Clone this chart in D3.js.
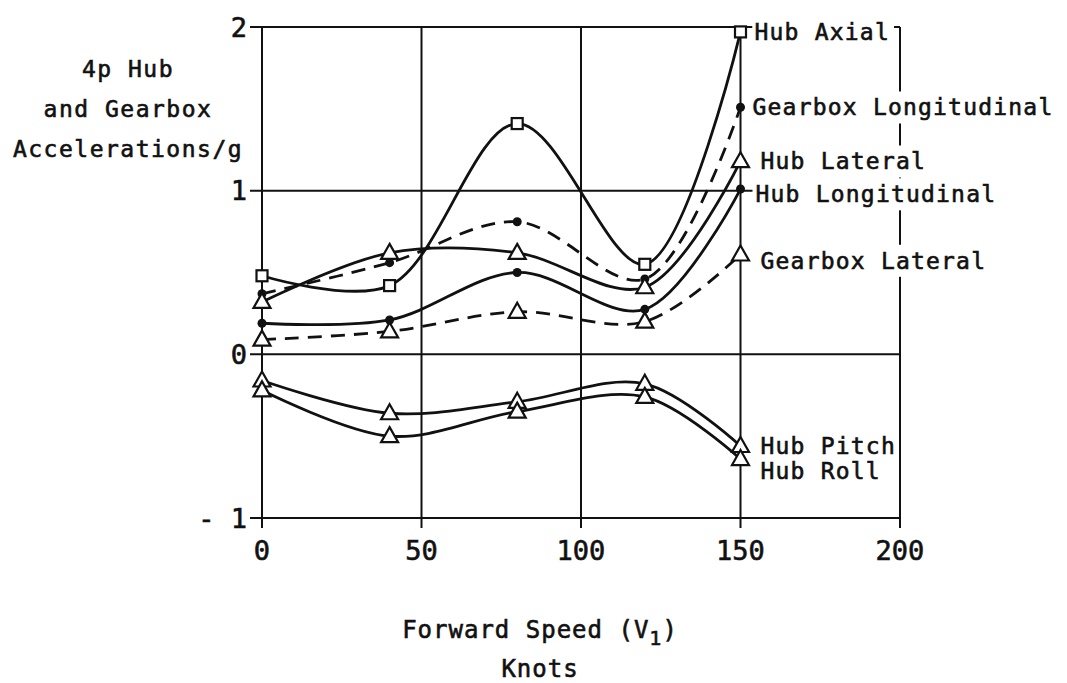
<!DOCTYPE html>
<html>
<head>
<meta charset="utf-8">
<script src="https://cdn.jsdelivr.net/npm/d3@7"></script>
<style>
  body { margin: 0; background: #fff; }
  text { font-family: "DejaVu Sans Mono", monospace; fill: #111; stroke: #111; stroke-width: 0.6px; }
</style>
</head>
<body>
<div id="vis1"></div>
<script>
// data
let speeds = [0, 40, 80, 120, 150];
let xTicks = [0, 50, 100, 150, 200];
let yTicks = [2, 1, 0, -1];
let yTickLabels = ["2", "1", "0", "- 1"];

let hubAxial = [0.48, 0.42, 1.41, 0.55, 1.97];
let gearboxLongitudinal = [0.37, 0.56, 0.81, 0.46, 1.51];
let hubLateral = [0.32, 0.62, 0.62, 0.41, 1.18];
let hubLongitudinal = [0.19, 0.21, 0.50, 0.275, 1.01];
let gearboxLateral = [0.09, 0.14, 0.26, 0.20, 0.61];
let hubPitch = [-0.16, -0.36, -0.29, -0.18, -0.56];
let hubRoll = [-0.22, -0.50, -0.35, -0.26, -0.64];

let W = 1067, H = 683;

let svg = d3.select('#vis1')
  .append('svg')
  .attr('width', W)
  .attr('height', H)
  .style('background-color', '#fff')

// scales
let x = d3.scaleLinear().domain([0, 200]).range([262, 900])
let y = d3.scaleLinear().domain([-1, 2]).range([518, 27])

let ink = '#111'

// grid: verticals 0..150, horizontals 2 and 1 stop just past 150
let grid = svg.append('g').attr('stroke', ink).attr('stroke-width', 2)
xTicks.slice(0, 4).forEach(v => {
  grid.append('line').attr('x1', x(v)).attr('x2', x(v)).attr('y1', y(2)).attr('y2', y(-1) + 10)
})
grid.append('line').attr('x1', x(200)).attr('x2', x(200)).attr('y1', y(2)).attr('y2', y(-1) + 10)
grid.append('line').attr('x1', x(200) - 6).attr('x2', x(200)).attr('y1', y(2)).attr('y2', y(2))
yTicks.forEach(v => {
  let xEnd = v > 0 ? x(150) + 12 : x(200)
  grid.append('line').attr('x1', x(0) - 12).attr('x2', xEnd).attr('y1', y(v)).attr('y2', y(v))
})

// tick labels
svg.selectAll('.ylab')
  .data(yTicks)
  .enter().append('text')
  .attr('class', 'ylab')
  .attr('x', 247)
  .attr('y', d => y(d))
  .attr('dy', '0.36em')
  .attr('text-anchor', 'end')
  .style('font-size', '27px')
  .text((d, i) => yTickLabels[i])

svg.selectAll('.xlab')
  .data(xTicks)
  .enter().append('text')
  .attr('class', 'xlab')
  .attr('x', d => x(d))
  .attr('y', 560)
  .attr('text-anchor', 'middle')
  .style('font-size', '27px')
  .text(d => d)

// axis titles
let yTitle = ["4p Hub", "and Gearbox", "Accelerations/g"]
svg.selectAll('.ytitle')
  .data(yTitle)
  .enter().append('text')
  .attr('class', 'ytitle')
  .attr('x', 128)
  .attr('y', (d, i) => 77 + i * 40)
  .attr('text-anchor', 'middle')
  .style('font-size', '23px')
  .style('letter-spacing', '1.5px')
  .text(d => d)

let xt = svg.append('text')
  .attr('x', 540)
  .attr('y', 638)
  .attr('text-anchor', 'middle')
  .style('font-size', '24px')
  .style('letter-spacing', '1px')
xt.append('tspan').text('Forward Speed (V')
xt.append('tspan').attr('dy', 7).style('font-size', '20px').text('1')
xt.append('tspan').attr('dy', -7).text(')')

svg.append('text')
  .attr('x', 540)
  .attr('y', 677)
  .attr('text-anchor', 'middle')
  .style('font-size', '24px')
  .style('letter-spacing', '1px')
  .text('Knots')

// series
let series = [
  {name: 'Hub Axial', values: hubAxial, dash: null, marker: 'square', dx: 14, dy: 0},
  {name: 'Gearbox Longitudinal', values: gearboxLongitudinal, dash: '14,9', marker: 'dot', dx: 12, dy: 0},
  {name: 'Hub Lateral', values: hubLateral, dash: null, marker: 'triangle', dx: 20, dy: 0},
  {name: 'Hub Longitudinal', values: hubLongitudinal, dash: null, marker: 'dot', dx: 15, dy: 5},
  {name: 'Gearbox Lateral', values: gearboxLateral, dash: '14,9', marker: 'triangle', dx: 20, dy: 6},
  {name: 'Hub Pitch', values: hubPitch, dash: null, marker: 'triangle', dx: 20, dy: 0},
  {name: 'Hub Roll', values: hubRoll, dash: null, marker: 'triangle', dx: 20, dy: 12}
]

let line = d3.line()
  .x((d, i) => x(speeds[i]))
  .y(d => y(d))
  .curve(d3.curveCatmullRom.alpha(0.5))

// labels first, with white boxes that break the 200 line
let labels = svg.append('g')
series.forEach(s => {
  let g = labels.append('g')
  let t = g.append('text')
    .attr('x', x(150) + s.dx)
    .attr('y', y(s.values[4]) + s.dy)
    .attr('dy', '0.36em')
    .style('font-size', '23px')
    .style('letter-spacing', '1.2px')
    .text(s.name)
  let b = t.node().getBBox()
  g.insert('rect', 'text')
    .attr('x', b.x - 2).attr('y', b.y - 3)
    .attr('width', b.width + 4).attr('height', b.height + 6)
    .attr('fill', '#fff')
})

let marks = svg.append('g')
series.forEach(s => {
  marks.append('path')
    .datum(s.values)
    .attr('d', line)
    .attr('fill', 'none')
    .attr('stroke', ink)
    .attr('stroke-width', 2.8)
    .attr('stroke-dasharray', s.dash)

  let pts = marks.selectAll('.m-' + s.name.replace(/ /g, ''))
    .data(s.values)
    .enter()
  if (s.marker == 'square') {
    pts.append('rect')
      .attr('x', (d, i) => x(speeds[i]) - 5.5)
      .attr('y', d => y(d) - 5.5)
      .attr('width', 11).attr('height', 11)
      .attr('fill', '#fff').attr('stroke', ink).attr('stroke-width', 2.2)
  } else if (s.marker == 'dot') {
    pts.append('circle')
      .attr('cx', (d, i) => x(speeds[i]))
      .attr('cy', d => y(d))
      .attr('r', 4.5)
      .attr('fill', ink)
  } else {
    pts.append('path')
      .attr('transform', (d, i) => `translate(${x(speeds[i])},${y(d)})`)
      .attr('d', 'M0,-9L8.5,6L-8.5,6Z')
      .attr('fill', '#fff').attr('stroke', ink).attr('stroke-width', 2.2)
  }
})
</script>
</body>
</html>
